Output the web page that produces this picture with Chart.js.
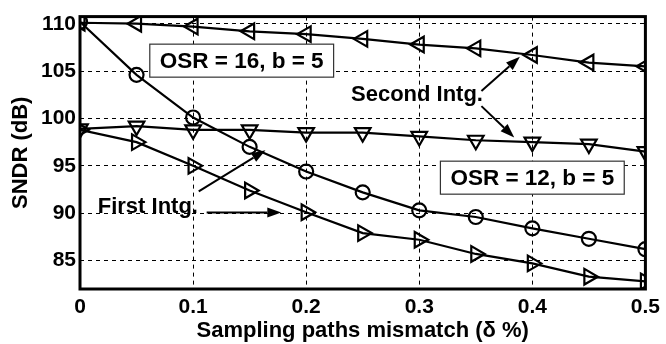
<!DOCTYPE html>
<html>
<head>
<meta charset="utf-8">
<script src="https://cdn.jsdelivr.net/npm/chart.js@4.4.0/dist/chart.umd.min.js"></script>
<style>
  html, body { margin: 0; padding: 0; background: #fff; }
  #wrap { width: 666px; height: 344px; }
</style>
</head>
<body>
<div id="wrap"><canvas id="sndr-chart"></canvas></div>
<script>
const ctx = document.getElementById("sndr-chart");

// sampling path mismatch (delta %)
const mismatch = [0, 0.05, 0.1, 0.15, 0.2, 0.25, 0.3, 0.35, 0.4, 0.45, 0.5];

// OSR = 16, b = 5
const osr16Second = [110.1, 110.0, 109.7, 109.2, 108.9, 108.4, 107.8, 107.4, 106.7, 105.9, 105.5];
const osr16First = [110.2, 104.6, 100.1, 97.0, 94.4, 92.2, 90.3, 89.6, 88.4, 87.3, 86.2];
// OSR = 12, b = 5
const osr12Second = [98.9, 99.2, 98.8, 98.8, 98.5, 98.5, 98.1, 97.7, 97.5, 97.3, 96.5];
const osr12First = [98.8, 97.5, 95.0, 92.4, 90.1, 87.9, 87.2, 85.7, 84.7, 83.3, 82.8];

const xTicks = [0, 0.1, 0.2, 0.3, 0.4, 0.5];
const yTicks = [85, 90, 95, 100, 105, 110];

function toPoints(vals) {
    return vals.map((v, i) => ({ x: mismatch[i], y: v }));
}

function series(label, vals, style, rotation, radius) {
    return {
        label: label,
        data: toPoints(vals),
        borderColor: '#000',
        borderWidth: 2.2,
        backgroundColor: 'transparent',
        pointStyle: style,
        rotation: rotation,
        pointRadius: radius,
        pointBorderWidth: 2.2,
        pointBorderColor: '#000',
        pointBackgroundColor: 'transparent',
        tension: 0,
        fill: false
    };
}

// labels & arrows (in data units)
const boxes = [
    { text: 'OSR = 16, b = 5', x: 0.143, y: 106.1 },
    { text: 'OSR = 12, b = 5', x: 0.4, y: 93.75 }
];
const notes = [
    { text: 'Second Intg.', x: 0.298, y: 102.5 },
    { text: 'First Intg.', x: 0.06, y: 90.7 }
];
const arrows = [
    [0.105, 92.3, 0.164, 96.65],
    [0.112, 90.07, 0.178, 90.07],
    [0.355, 102.9, 0.389, 106.5],
    [0.355, 101.3, 0.384, 98.0]
];

const FAMILY = '"Liberation Sans", Arial, sans-serif';

const extras = {
    id: 'extras',
    beforeDatasetsDraw(chart) {
        const { ctx, chartArea: a } = chart;
        ctx.save();
        ctx.strokeStyle = '#000';
        ctx.lineWidth = 3;
        ctx.strokeRect(a.left, a.top, a.right - a.left, a.bottom - a.top);
        ctx.restore();
    },
    afterDatasetsDraw(chart) {
        const { ctx, scales: { x, y } } = chart;
        ctx.save();
        ctx.textAlign = 'center';
        ctx.textBaseline = 'middle';
        ctx.fillStyle = '#000';

        ctx.font = 'bold 22.5px ' + FAMILY;
        boxes.forEach(b => {
            const px = x.getPixelForValue(b.x);
            const py = y.getPixelForValue(b.y);
            const w = ctx.measureText(b.text).width + 20;
            const h = 33;
            ctx.fillStyle = '#fff';
            ctx.fillRect(px - w / 2, py - h / 2, w, h);
            ctx.strokeStyle = '#333';
            ctx.lineWidth = 1.2;
            ctx.strokeRect(px - w / 2, py - h / 2, w, h);
            ctx.fillStyle = '#000';
            ctx.fillText(b.text, px, py + 1);
        });

        ctx.font = 'bold 22px ' + FAMILY;
        notes.forEach(n => {
            ctx.fillText(n.text, x.getPixelForValue(n.x), y.getPixelForValue(n.y));
        });

        ctx.strokeStyle = '#000';
        ctx.lineWidth = 2;
        arrows.forEach(ar => {
            const x1 = x.getPixelForValue(ar[0]), y1 = y.getPixelForValue(ar[1]);
            const x2 = x.getPixelForValue(ar[2]), y2 = y.getPixelForValue(ar[3]);
            const ang = Math.atan2(y2 - y1, x2 - x1);
            const len = 14, half = 5;
            const bx = x2 - Math.cos(ang) * len, by = y2 - Math.sin(ang) * len;
            ctx.beginPath();
            ctx.moveTo(x1, y1);
            ctx.lineTo(bx, by);
            ctx.stroke();
            ctx.beginPath();
            ctx.moveTo(x2, y2);
            ctx.lineTo(bx - Math.sin(ang) * half, by + Math.cos(ang) * half);
            ctx.lineTo(bx + Math.sin(ang) * half, by - Math.cos(ang) * half);
            ctx.closePath();
            ctx.fill();
        });
        ctx.restore();
    }
};

const tickFont = { family: FAMILY, size: 21, weight: 'bold' };
const titleFont = { family: FAMILY, size: 22, weight: 'bold' };

const config = {
    type: 'line',
    data: {
        datasets: [
            series('OSR16 second', osr16Second, 'triangle', -90, 9),
            series('OSR16 first', osr16First, 'circle', 0, 7),
            series('OSR12 second', osr12Second, 'triangle', 180, 9),
            series('OSR12 first', osr12First, 'triangle', 90, 9)
        ]
    },
    options: {
        responsive: true,
        maintainAspectRatio: false,
        animation: false,
        layout: { padding: { top: 14, right: 16, left: 0, bottom: 0 } },
        plugins: {
            legend: { display: false },
            tooltip: { enabled: false }
        },
        scales: {
            x: {
                type: 'linear',
                min: 0,
                max: 0.5,
                afterBuildTicks: s => { s.ticks = xTicks.map(v => ({ value: v })); },
                afterFit: s => { s.height = 55; },
                grid: { color: '#000', lineWidth: 1, drawTicks: false },
                border: { display: false, dash: [4, 4] },
                ticks: {
                    color: '#000',
                    font: tickFont,
                    padding: 6,
                    maxRotation: 0,
                    callback: v => String(v)
                },
                title: {
                    display: true,
                    text: 'Sampling paths mismatch (\u03B4 %)',
                    color: '#000',
                    font: titleFont,
                    padding: { top: 0, bottom: 0 }
                }
            },
            y: {
                min: 82,
                max: 110.75,
                afterBuildTicks: s => { s.ticks = yTicks.map(v => ({ value: v })); },
                afterFit: s => { s.width = 80; },
                grid: { color: '#000', lineWidth: 1, drawTicks: false },
                border: { display: false, dash: [4, 4] },
                ticks: {
                    color: '#000',
                    font: tickFont,
                    padding: 4
                },
                title: {
                    display: true,
                    text: 'SNDR (dB)',
                    color: '#000',
                    font: titleFont,
                    padding: { top: 8, bottom: 0 }
                }
            }
        }
    },
    plugins: [extras]
};

const chart = new Chart(ctx, config);
</script>
</body>
</html>
